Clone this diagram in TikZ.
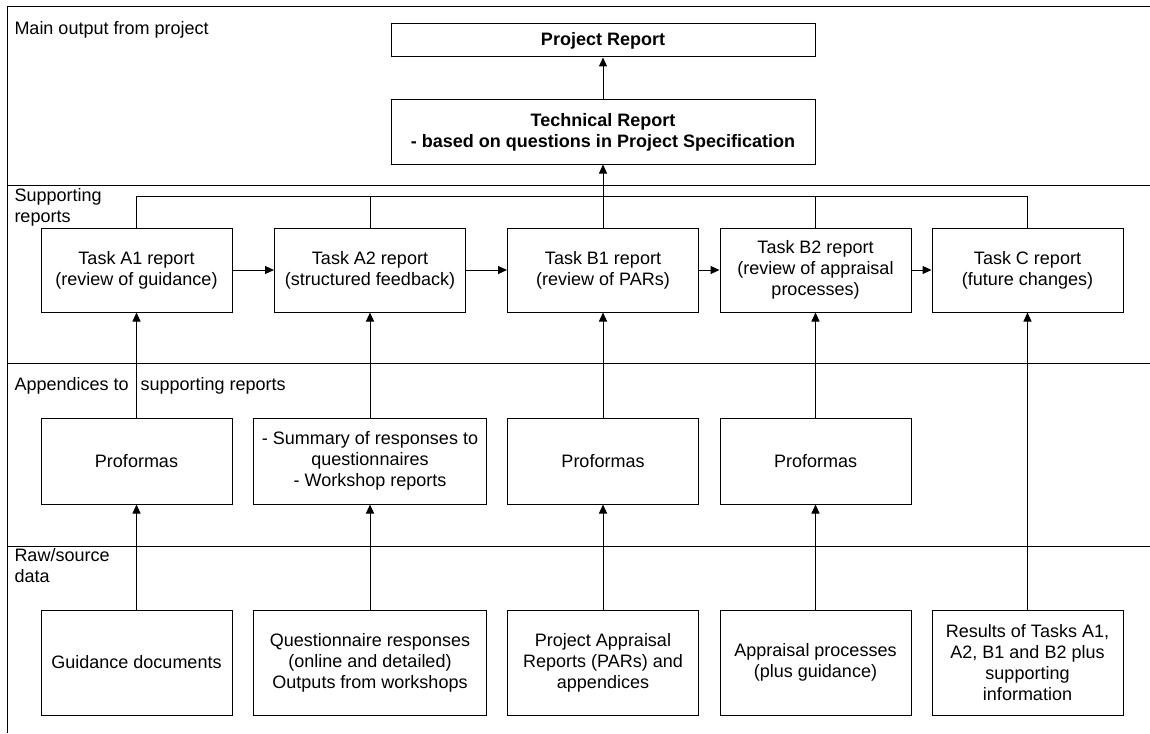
\documentclass[tikz,border=0pt]{standalone}
\usepackage{fontspec}
\setmainfont{Liberation Sans}
\usetikzlibrary{arrows.meta}

\begin{document}
\begin{tikzpicture}[x=1pt, y=-1pt, line width=1pt,
  every node/.style={font=\fontsize{18}{21}\selectfont},
  box/.style={draw, align=center, inner sep=0pt, minimum width=191pt, minimum height=84pt},
  wide/.style={box, minimum width=233pt},
  bold/.style={font=\fontsize{18}{21}\selectfont\bfseries},
  lane/.style={align=left, inner sep=0pt},
  flow/.style={-{Triangle[length=9pt,width=8pt]}}]
\useasboundingbox (0,0) rectangle (1150,733);
\draw (1150,7) -- (7,7) -- (7,733);
\draw (7,185) -- (1150,185);
\draw (7,363.5) -- (1150,363.5);
\draw (7,546) -- (1150,546);
\node[lane, anchor=base west] (lmain) at (14,34.3) {Main output from project};
\node[lane, anchor=north west] (lsupp) at (14,188) {Supporting\\reports};
\node[lane, anchor=base west] (lapp) at (14,390) {Appendices to\hspace{12pt}supporting reports};
\node[lane, anchor=north west] (lraw) at (14,548) {Raw/source\\data};
\node[box, bold, minimum width=424pt, minimum height=33pt] (prep) at (603,40.5) {Project Report};
\node[box, bold, minimum width=424pt, minimum height=64pt] (tech) at (603,132) {Technical Report\\- based on questions in Project Specification};
\node[box] (ta1) at (136.5,270) {Task A1 report\\(review of guidance)};
\node[box] (ta2) at (370,270) {Task A2 report\\(structured feedback)};
\node[box] (tb1) at (603,270) {Task B1 report\\(review of PARs)};
\node[box] (tb2) at (815.5,270) {Task B2 report\\(review of appraisal\\processes)};
\node[box] (tc) at (1027.5,270) {Task C report\\(future changes)};
\node[box, minimum height=86pt] (pa1) at (136.5,461) {Proformas};
\node[wide, minimum height=86pt] (pa2) at (370,461) {- Summary of responses to\\questionnaires\\- Workshop reports};
\node[box, minimum height=86pt] (pb1) at (603,461) {Proformas};
\node[box, minimum height=86pt] (pb2) at (815.5,461) {Proformas};
\node[box, minimum height=105pt] (ra1) at (136.5,662.5) {Guidance documents};
\node[wide, minimum height=105pt] (ra2) at (370,662.5) {Questionnaire responses\\(online and detailed)\\Outputs from workshops};
\node[box, minimum height=105pt] (rb1) at (603,662.5) {Project Appraisal\\Reports (PARs) and\\appendices};
\node[box, minimum height=105pt] (rb2) at (815.5,662.5) {Appraisal processes\\(plus guidance)};
\node[box, minimum height=105pt] (rc) at (1027.5,662.5) {Results of Tasks A1,\\A2, B1 and B2 plus\\supporting\\information};
\coordinate (bus) at (0,196);
\draw[flow] (tech) -- (prep);
\draw[flow] (tb1) -- (tech);
\draw (ta1.north) |- (tc.north |- bus) -- (tc.north);
\foreach \t in {ta2,tb2}
  \draw (\t.north) -- (\t.north |- bus);
\foreach \a/\b in {ta1/ta2,ta2/tb1,tb1/tb2,tb2/tc}
  \draw[flow] (\a) -- (\b);
\foreach \r/\p/\t in {ra1/pa1/ta1,ra2/pa2/ta2,rb1/pb1/tb1,rb2/pb2/tb2}
  \draw[flow] (\r) -- (\p);
\foreach \r/\p/\t in {ra1/pa1/ta1,ra2/pa2/ta2,rb1/pb1/tb1,rb2/pb2/tb2}
  \draw[flow] (\p) -- (\t);
\draw[flow] (rc) -- (tc);
\end{tikzpicture}
\end{document}
